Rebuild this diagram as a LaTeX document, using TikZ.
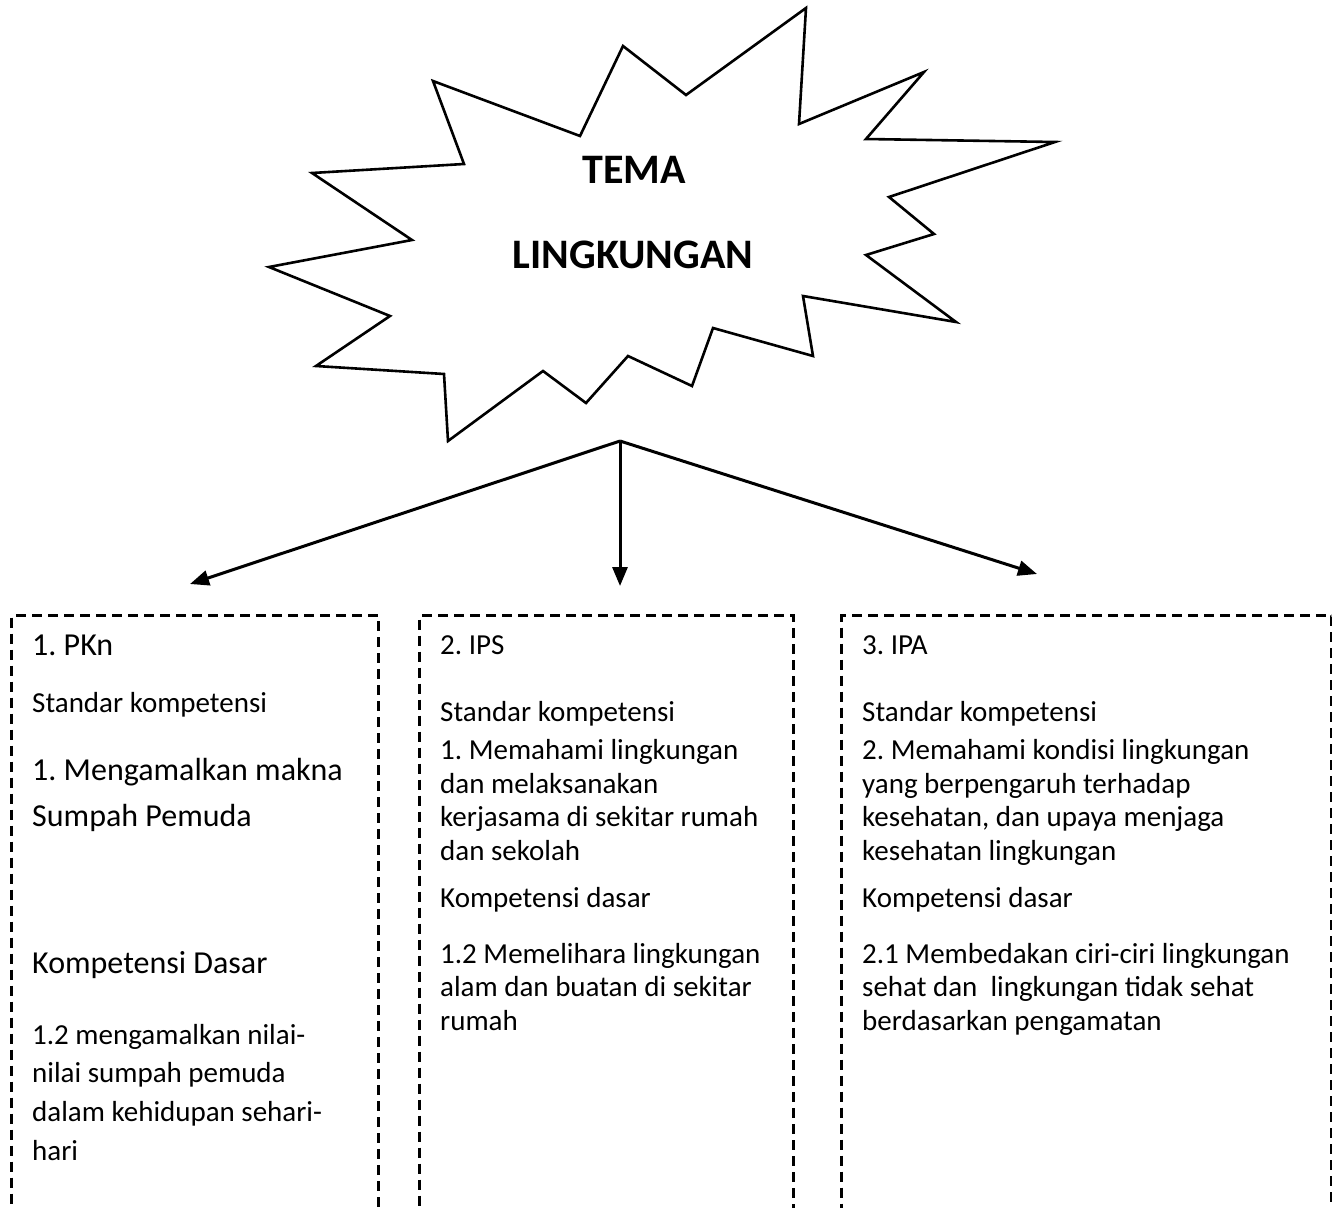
\documentclass[tikz,border=0pt]{standalone}
\usepackage{fontspec}
\setmainfont{Carlito}
\usetikzlibrary{arrows.meta}
\tikzset{
  dbox/.style={draw, line width=3pt, dash pattern=on 10pt off 6pt, rectangle, inner sep=0pt, anchor=north west},
  txt/.style={anchor=base west, inner sep=0pt, font=\fontsize{29}{35}\selectfont},
  txtL/.style={anchor=base west, inner sep=0pt, font=\fontsize{32}{38}\selectfont},
  ttl/.style={inner sep=0pt, font=\fontsize{42}{50}\selectfont\bfseries},
  arr/.style={line width=3pt, -{Triangle[length=19pt,width=15pt]}},
}
\frenchspacing
\begin{document}
\begin{tikzpicture}[x=1pt,y=-1pt]
\useasboundingbox (0,0) rectangle (1332,1207);
\clip (0,0) rectangle (1332,1207);
% star
\draw[line width=2.6pt, line join=miter]
 (806,8) -- (799,124) -- (924,72) -- (866,139) -- (1055,142) -- (889,197)
 -- (934,234) -- (866,255) -- (956,322) -- (803,296) -- (813,356) -- (713,328)
 -- (692,386) -- (628,356) -- (586,403) -- (543,371) -- (448,441) -- (444,374)
 -- (316,366) -- (390,316) -- (269,267) -- (412,240) -- (312,173) -- (464,164)
 -- (433,81) -- (580,136) -- (623,46) -- (686,95) -- cycle;
\node[ttl] (tema) at (634,170) {TEMA};
\node[ttl] (ling) at (633,255) {LINGKUNGAN};
% arrows
\coordinate (src) at (620,441);
\coordinate (t1) at (190,584);
\coordinate (t2) at (620,586);
\coordinate (t3) at (1037,574);
\draw[arr] (src) -- (t1);
\draw[arr] (src) -- (t2);
\draw[arr] (src) -- (t3);
% boxes
\node[dbox, minimum width=367pt, minimum height=640pt] (b1) at (10,614) {};
\node[dbox, minimum width=374pt, minimum height=640pt] (b2) at (418,614) {};
\node[dbox, minimum width=490pt, minimum height=640pt] (b3) at (840,614) {};
% box 1
\node[txtL] (a1) at (32,655) {1. PKn};
\node[txt]  (a2) at (32,712) {Standar kompetensi};
\node[txtL] (a3) at (32,780) {1. Mengamalkan makna};
\node[txtL] (a4) at (32,826) {Sumpah Pemuda};
\node[txtL] (a5) at (32,973) {Kompetensi Dasar};
\node[txt]  (a6) at (32,1044) {1.2 mengamalkan nilai-};
\node[txt]  (a7) at (32,1082) {nilai sumpah pemuda};
\node[txt]  (a8) at (32,1121) {dalam kehidupan sehari-};
\node[txt]  (a9) at (32,1160) {hari};
% box 2
\node[txt] (c1) at (440,654) {2. IPS};
\node[txt] (c2) at (440,721) {Standar kompetensi};
\node[txt] (c3) at (440,759) {1. Memahami lingkungan};
\node[txt] (c4) at (440,793) {dan melaksanakan};
\node[txt] (c5) at (440,826) {kerjasama di sekitar rumah};
\node[txt] (c6) at (440,860) {dan sekolah};
\node[txt] (c7) at (440,907) {Kompetensi dasar};
\node[txt] (c8) at (440,963) {1.2 Memelihara lingkungan};
\node[txt] (c9) at (440,996) {alam dan buatan di sekitar};
\node[txt] (c10) at (440,1030) {rumah};
% box 3
\node[txt] (d1) at (862,654) {3. IPA};
\node[txt] (d2) at (862,721) {Standar kompetensi};
\node[txt] (d3) at (862,759) {2. Memahami kondisi lingkungan};
\node[txt] (d4) at (862,793) {yang berpengaruh terhadap};
\node[txt] (d5) at (862,826) {kesehatan, dan upaya menjaga};
\node[txt] (d6) at (862,860) {kesehatan lingkungan};
\node[txt] (d7) at (862,907) {Kompetensi dasar};
\node[txt] (d8) at (862,963) {2.1 Membedakan ciri-ciri lingkungan};
\node[txt] (d9) at (862,996) {sehat dan\ \ lingkungan tidak sehat};
\node[txt] (d10) at (862,1030) {berdasarkan pengamatan};
\end{tikzpicture}
\end{document}
